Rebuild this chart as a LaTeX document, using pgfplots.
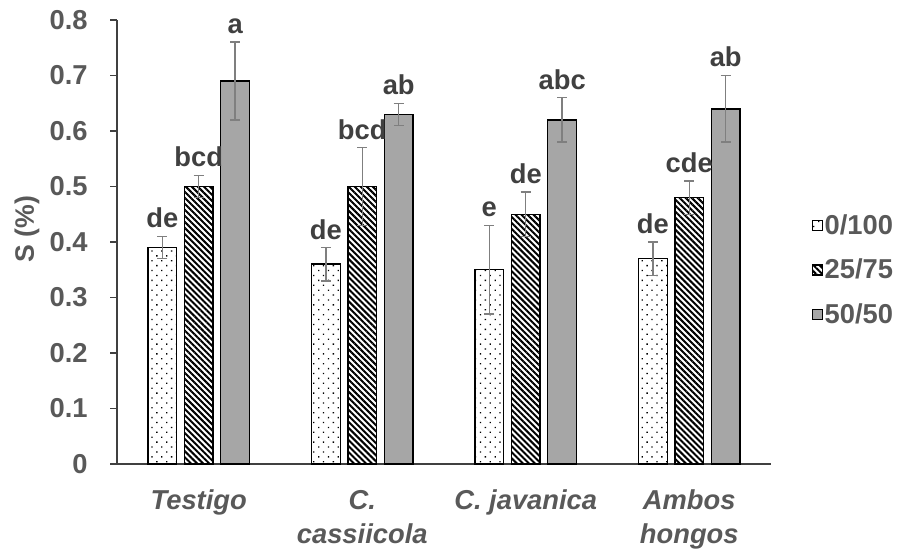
\documentclass[border=0pt]{standalone}
\usepackage{fontspec}
\setmainfont{Liberation Sans}
\usepackage{pgfplots}
\pgfplotsset{compat=1.18}
\usepackage{pgfplotstable}
\usetikzlibrary{patterns.meta}

\definecolor{txt}{HTML}{595959}
\definecolor{lab}{HTML}{404040}
\definecolor{barg}{HTML}{A6A6A6}
\definecolor{errg}{HTML}{7F7F7F}

% columns: position, mean, error, letter
\pgfplotstableread{
x y e l
0 0.39 0.02 de
1 0.36 0.03 de
2 0.35 0.08 e
3 0.37 0.03 de
}\tA
\pgfplotstableread{
x y e l
0 0.50 0.02 bcd
1 0.50 0.07 bcd
2 0.45 0.04 de
3 0.48 0.03 cde
}\tB
\pgfplotstableread{
x y e l
0 0.69 0.07 a
1 0.63 0.02 ab
2 0.62 0.04 abc
3 0.64 0.06 ab
}\tC

\newcommand{\fnt}{\fontsize{20.5}{25.5}\selectfont\bfseries}

\pgfplotsset{
  sbar/.style={ybar, bar width=21.7pt, bar shift=#1, draw=black, line width=1.1pt,
    error bars/.cd, y dir=both, y explicit,
    error bar style={errg, line width=1.1pt, xshift=#1},
    error mark options={errg, line width=1.1pt, rotate=90, mark size=3.75pt},
    /pgfplots/.cd,
    legend image code/.code={\draw[##1, line width=0.9pt] (0pt,-3.75pt) rectangle (7.5pt,3.75pt);}},
  lbl/.style={draw=none, mark=none, forget plot, nodes near coords,
    point meta=explicit symbolic,
    every node near coord/.append style={font=\fnt, text=lab, anchor=south, inner sep=2.5pt, yshift=3.5pt}},
}

\begin{document}
\begin{tikzpicture}
\useasboundingbox (-87.75pt,-64.5pt) rectangle (595.5pt,348pt);
\begin{axis}[
  scale only axis,
  width=490.5pt, height=333pt,
  xmin=-0.5, xmax=3.5, ymin=0, ymax=0.8,
  axis x line*=bottom, axis y line*=left,
  axis line style={black!75, line width=0.8pt},
  xtick={0,1,2,3},
  xticklabels={{\textit{Testigo}},{\textit{C.}\\\textit{cassiicola}},{\textit{C. javanica}},{\textit{Ambos}\\\textit{hongos}}},
  xtick style={draw=none},
  xticklabel style={font=\fnt, text=txt, align=center, yshift=-11pt},
  ytick={0,0.1,...,0.8},
  tick align=outside,
  ytick style={black!75, line width=0.8pt},
  major tick length=5pt,
  yticklabel style={font=\fnt, text=txt, anchor=east, xshift=-13.5pt},
  /pgf/number format/fixed, /pgf/number format/precision=1,
  /pgf/number format/assume math mode=true,
  ylabel={S (\%)},
  ylabel style={font=\fontsize{20}{24}\selectfont\bfseries, text=txt,
    at={(axis description cs:-0.1376,0.529)}, anchor=center},
  legend style={draw=none, fill=none, at={(axis description cs:1.0625,0.437)}, anchor=west,
    font=\fnt, text=txt, row sep=13pt, inner sep=0pt,
    nodes={inner xsep=1pt}},
  legend cell align=left,
  clip=false,
]
\addplot[sbar=-27.35pt, pattern={Dots[radius=0.7pt, distance=5.2pt, angle=45]}]
  table[x=x, y=y, y error=e] {\tA};
\addlegendentry{0/100}
\addplot[sbar=0pt, pattern={Lines[angle=-45, distance=3.2pt, line width=1.5pt]}]
  table[x=x, y=y, y error=e] {\tB};
\addlegendentry{25/75}
\addplot[sbar=27.35pt, fill=barg]
  table[x=x, y=y, y error=e] {\tC};
\addlegendentry{50/50}

\addplot[lbl] table[x expr=\thisrow{x}-0.223, y expr=\thisrow{y}+\thisrow{e}, meta=l] {\tA};
\addplot[lbl] table[x expr=\thisrow{x}, y expr=\thisrow{y}+\thisrow{e}, meta=l] {\tB};
\addplot[lbl] table[x expr=\thisrow{x}+0.223, y expr=\thisrow{y}+\thisrow{e}, meta=l] {\tC};
\end{axis}
\end{tikzpicture}
\end{document}
